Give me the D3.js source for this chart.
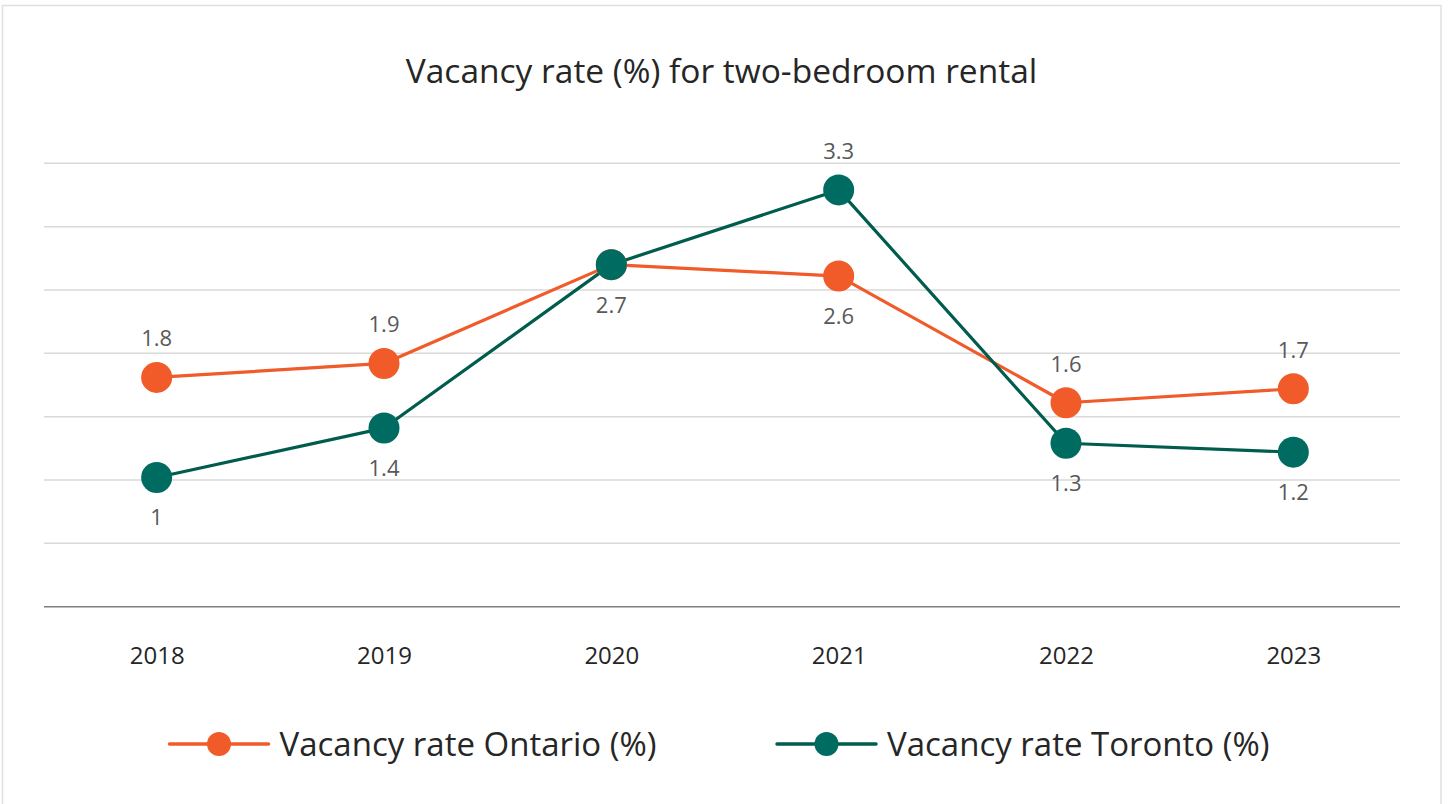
<!DOCTYPE html>
<html>
<head>
<meta charset="utf-8">
<script src="https://cdn.jsdelivr.net/npm/d3@7"></script>
<style>
  html, body { margin: 0; padding: 0; background: #fff; }
  svg { display: block; }
  text { font-family: "Open Sans", "Noto Sans", sans-serif; }
</style>
</head>
<body>
<svg id="chart" width="1448" height="804"></svg>
<script>
// ---- data ----
const years = ["2018", "2019", "2020", "2021", "2022", "2023"];
const ontario = [1.81, 1.92, 2.70, 2.61, 1.61, 1.72];
const toronto = [1.02, 1.41, 2.70, 3.29, 1.29, 1.22];
const seriesNames = ["Vacancy rate Ontario (%)", "Vacancy rate Toronto (%)"];
const yTicks = [0, 0.5, 1, 1.5, 2, 2.5, 3, 3.5];
const title = "Vacancy rate (%) for two-bedroom rental";

// ---- styling ----
const W = 1448, H = 804;
const orange = "#F15A29";
const greenLine = "#005C4D";
const greenDot = "#006B61";

const svg = d3.select("#chart");

// outer border
svg.append("rect")
  .attr("x", 2.5).attr("y", 5.5)
  .attr("width", 1438.5).attr("height", 810)
  .attr("fill", "#fff").attr("stroke", "#e0e0e0").attr("stroke-width", 1.5);

const plot = { left: 44, right: 1400, top: 163.3, bottom: 606.7 };

const x = d3.scalePoint().domain(years).range([43, 1407]).padding(0.5);
const y = d3.scaleLinear().domain([0, 3.5]).range([plot.bottom, plot.top]);

// gridlines
svg.append("g").selectAll("line")
  .data(yTicks.filter(d => d > 0))
  .join("line")
  .attr("x1", plot.left).attr("x2", plot.right)
  .attr("y1", d => y(d)).attr("y2", d => y(d))
  .attr("stroke", "#d9d9d9").attr("stroke-width", 1.5);

// x axis
const xAxis = svg.append("g")
  .attr("transform", `translate(0,${y(0)})`)
  .call(d3.axisBottom(x).tickSize(0).tickPadding(0));
xAxis.select(".domain").remove();
svg.append("line")
  .attr("x1", plot.left).attr("x2", plot.right)
  .attr("y1", y(0)).attr("y2", y(0))
  .attr("stroke", "#7f7f7f").attr("stroke-width", 1.5);
xAxis.selectAll("text")
  .attr("y", 0).attr("dy", 0)
  .attr("transform", "translate(0,57)")
  .style("font-family", '"Open Sans", sans-serif')
  .style("font-size", "24px")
  .attr("fill", "#262626");

// title
svg.append("text")
  .attr("x", 721.5).attr("y", 83)
  .attr("text-anchor", "middle")
  .style("font-size", "33.5px")
  .attr("fill", "#262626")
  .text(title);

const series = [
  { name: seriesNames[0], values: ontario, other: toronto, line: orange, dot: orange, hideTie: true },
  { name: seriesNames[1], values: toronto, other: ontario, line: greenLine, dot: greenDot, hideTie: false }
];

const line = d3.line().x((d, i) => x(years[i])).y(d => y(d));

series.forEach(s => {
  svg.append("path")
    .attr("d", line(s.values))
    .attr("fill", "none")
    .attr("stroke", s.line)
    .attr("stroke-width", 3.2)
    .attr("stroke-linejoin", "round");
});

series.forEach(s => {
  svg.append("g").selectAll("circle")
    .data(s.values)
    .join("circle")
    .attr("cx", (d, i) => x(years[i]))
    .attr("cy", d => y(d))
    .attr("r", 15.5)
    .attr("fill", s.dot);
});

// data labels
const fmt = d3.format(".1~f");
series.forEach(s => {
  svg.append("g").selectAll("text")
    .data(s.values.map((v, i) => ({ v, i, o: s.other[i] })).filter(d => !(s.hideTie && d.v === d.o)))
    .join("text")
    .attr("x", d => x(years[d.i]))
    .attr("y", d => d.v > d.o ? y(d.v) - 31 : y(d.v) + 48)
    .attr("text-anchor", "middle")
    .style("font-size", "22px")
    .attr("fill", "#595959")
    .text(d => fmt(d.v));
});

// legend
const legendItems = [
  { name: seriesNames[0], color: orange, dot: orange, x0: 169.5 },
  { name: seriesNames[1], color: greenLine, dot: greenDot, x0: 777 }
];
const ly = 744;
legendItems.forEach(it => {
  const g = svg.append("g").attr("transform", `translate(${it.x0},${ly})`);
  g.append("line").attr("x1", 0).attr("x2", 99).attr("y1", 0).attr("y2", 0)
    .attr("stroke", it.color).attr("stroke-width", 3.5).attr("stroke-linecap", "round");
  g.append("circle").attr("cx", 49.5).attr("cy", 0).attr("r", 12).attr("fill", it.dot);
  g.append("text").attr("x", 110).attr("y", 11.5)
    .style("font-size", "33px").attr("fill", "#262626").text(it.name);
});
</script>
</body>
</html>
